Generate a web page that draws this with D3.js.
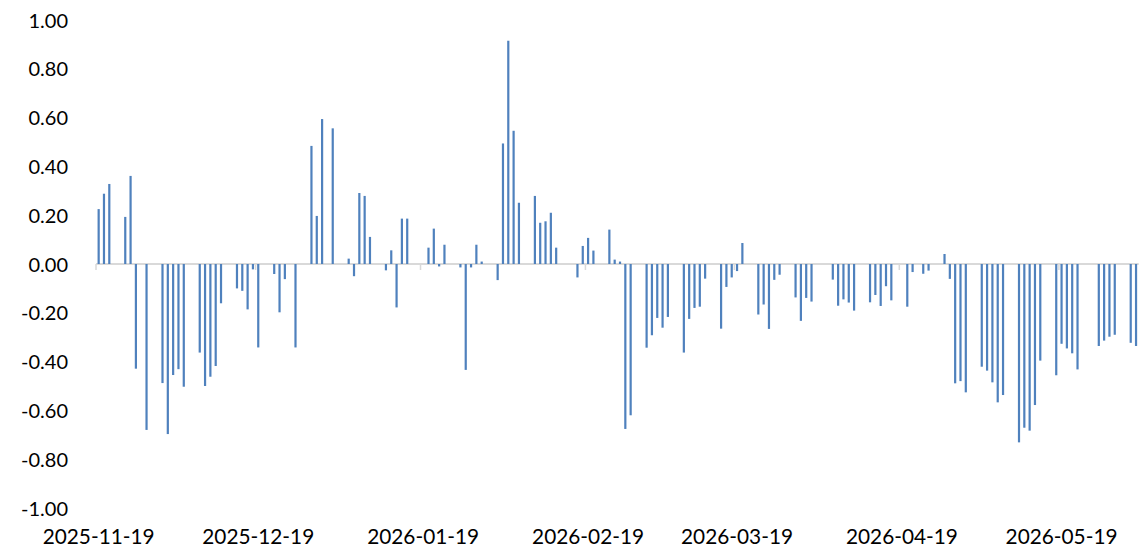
<!DOCTYPE html>
<html>
<head>
<meta charset="utf-8">
<script src="https://cdn.jsdelivr.net/npm/d3@7"></script>
<style>
  html, body { margin: 0; padding: 0; background: #fff; }
  svg { display: block; }
  text { font-family: Lato, "Open Sans", sans-serif; fill: #000; }
</style>
</head>
<body>
<svg id="chart" width="1140" height="547"></svg>
<script>
// trading days (no weekends / US holidays) and their values
var dates = [
  '2025-11-19','2025-11-20','2025-11-21','2025-11-24','2025-11-25','2025-11-26','2025-11-28',
  '2025-12-01','2025-12-02','2025-12-03','2025-12-04','2025-12-05',
  '2025-12-08','2025-12-09','2025-12-10','2025-12-11','2025-12-12',
  '2025-12-15','2025-12-16','2025-12-17','2025-12-18','2025-12-19',
  '2025-12-22','2025-12-23','2025-12-24','2025-12-26',
  '2025-12-29','2025-12-30','2025-12-31','2026-01-02',
  '2026-01-05','2026-01-06','2026-01-07','2026-01-08','2026-01-09',
  '2026-01-12','2026-01-13','2026-01-14','2026-01-15','2026-01-16',
  '2026-01-20','2026-01-21','2026-01-22','2026-01-23',
  '2026-01-26','2026-01-27','2026-01-28','2026-01-29','2026-01-30',
  '2026-02-02','2026-02-03','2026-02-04','2026-02-05','2026-02-06',
  '2026-02-09','2026-02-10','2026-02-11','2026-02-12','2026-02-13',
  '2026-02-17','2026-02-18','2026-02-19','2026-02-20',
  '2026-02-23','2026-02-24','2026-02-25','2026-02-26','2026-02-27',
  '2026-03-02','2026-03-03','2026-03-04','2026-03-05','2026-03-06',
  '2026-03-09','2026-03-10','2026-03-11','2026-03-12','2026-03-13',
  '2026-03-16','2026-03-17','2026-03-18','2026-03-19','2026-03-20',
  '2026-03-23','2026-03-24','2026-03-25','2026-03-26','2026-03-27',
  '2026-03-30','2026-03-31','2026-04-01','2026-04-02',
  '2026-04-06','2026-04-07','2026-04-08','2026-04-09','2026-04-10',
  '2026-04-13','2026-04-14','2026-04-15','2026-04-16','2026-04-17',
  '2026-04-20','2026-04-21','2026-04-23','2026-04-24',
  '2026-04-27','2026-04-28','2026-04-29','2026-04-30','2026-05-01',
  '2026-05-04','2026-05-05','2026-05-06','2026-05-07','2026-05-08',
  '2026-05-11','2026-05-12','2026-05-13','2026-05-14','2026-05-15',
  '2026-05-18','2026-05-19','2026-05-20','2026-05-21','2026-05-22',
  '2026-05-26','2026-05-27','2026-05-28','2026-05-29',
  '2026-06-01','2026-06-02'
];

var values = [
  0.225, 0.288, 0.328, 0.193, 0.361, -0.429, -0.680,
  -0.488, -0.697, -0.455, -0.431, -0.503,
  -0.363, -0.500, -0.462, -0.418, -0.161,
  -0.100, -0.110, -0.186, -0.022, -0.342,
  -0.041, -0.198, -0.062, -0.342,
  0.484, 0.197, 0.594, 0.556,
  0.022, -0.050, 0.291, 0.279, 0.111,
  -0.026, 0.056, -0.178, 0.186, 0.186,
  0.067, 0.145, -0.010, 0.079,
  -0.014, -0.434, -0.014, 0.079, 0.010,
  -0.066, 0.494, 0.915, 0.546, 0.251,
  0.279, 0.169, 0.175, 0.210, 0.067,
  -0.055, 0.074, 0.107, 0.055,
  0.141, 0.018, 0.010, -0.676, -0.620,
  -0.343, -0.292, -0.221, -0.261, -0.217,
  -0.363, -0.225, -0.180, -0.175, -0.060,
  -0.265, -0.094, -0.055, -0.029, 0.086,
  -0.207, -0.166, -0.266, -0.065, -0.044,
  -0.137, -0.233, -0.139, -0.154,
  -0.064, -0.171, -0.145, -0.158, -0.191,
  -0.157, -0.127, -0.172, -0.091, -0.149,
  -0.175, -0.033, -0.040, -0.027,
  0.041, -0.061, -0.489, -0.480, -0.526,
  -0.421, -0.437, -0.485, -0.567, -0.537,
  -0.731, -0.671, -0.683, -0.578, -0.396,
  -0.456, -0.327, -0.346, -0.366, -0.432,
  -0.336, -0.314, -0.298, -0.290,
  -0.323, -0.336
];

var xTickDates = ['2025-11-19','2025-12-19','2026-01-19','2026-02-19','2026-03-19','2026-04-19','2026-05-19'];
var yTicks = [1, 0.8, 0.6, 0.4, 0.2, 0, -0.2, -0.4, -0.6, -0.8, -1];
var xDomain = ['2025-11-19', '2026-06-03'];

var parseDate = d3.utcParse('%Y-%m-%d');
var fmt = d3.formatLocale({decimal: '.', thousands: ',', grouping: [3], currency: ['', ''], minus: '-'}).format('.2f');

var svg = d3.select('#chart');

var x = d3.scaleUtc()
    .domain(xDomain.map(parseDate))
    .range([96, 1138.7]);

var y = d3.scaleLinear()
    .domain([-1, 1])
    .range([508, 20]);

// width of one day on the date axis
var dayW = x(parseDate('2025-11-20')) - x(parseDate('2025-11-19'));

var data = dates.map(function(d, i){
    return {date: parseDate(d), value: values[i]};
});

// zero axis line
svg.append('line')
    .attr('x1', x.range()[0])
    .attr('x2', x.range()[1])
    .attr('y1', y(0))
    .attr('y2', y(0))
    .attr('stroke', '#d9d9d9')
    .attr('stroke-width', 2);

// tick marks
svg.selectAll('.tick-mark')
    .data(xTickDates)
    .enter()
    .append('line')
    .attr('class', 'tick-mark')
    .attr('x1', function(d){ return x(parseDate(d)); })
    .attr('x2', function(d){ return x(parseDate(d)); })
    .attr('y1', y(0))
    .attr('y2', y(0) + 6)
    .attr('stroke', '#d9d9d9')
    .attr('stroke-width', 1.5);

// bars
svg.selectAll('.bar')
    .data(data)
    .enter()
    .append('rect')
    .attr('class', 'bar')
    .attr('x', function(d){ return x(d.date) + dayW / 2 - 1.1; })
    .attr('width', 2.2)
    .attr('y', function(d){ return Math.min(y(d.value), y(0)); })
    .attr('height', function(d){ return Math.abs(y(d.value) - y(0)); })
    .attr('fill', '#4f81bd');

// y labels
svg.selectAll('.ylab')
    .data(yTicks)
    .enter()
    .append('text')
    .attr('class', 'ylab')
    .attr('x', 68)
    .attr('y', function(d){ return y(d) + 7.5; })
    .attr('text-anchor', 'end')
    .style('font-size', '20px')
    .text(function(d){ return fmt(d); });

// x labels
svg.selectAll('.xlab')
    .data(xTickDates)
    .enter()
    .append('text')
    .attr('class', 'xlab')
    .attr('x', function(d){ return x(parseDate(d)) + dayW / 2; })
    .attr('y', 544)
    .attr('text-anchor', 'middle')
    .style('font-size', '20.8px')
    .text(function(d){ return d; });
</script>
</body>
</html>
